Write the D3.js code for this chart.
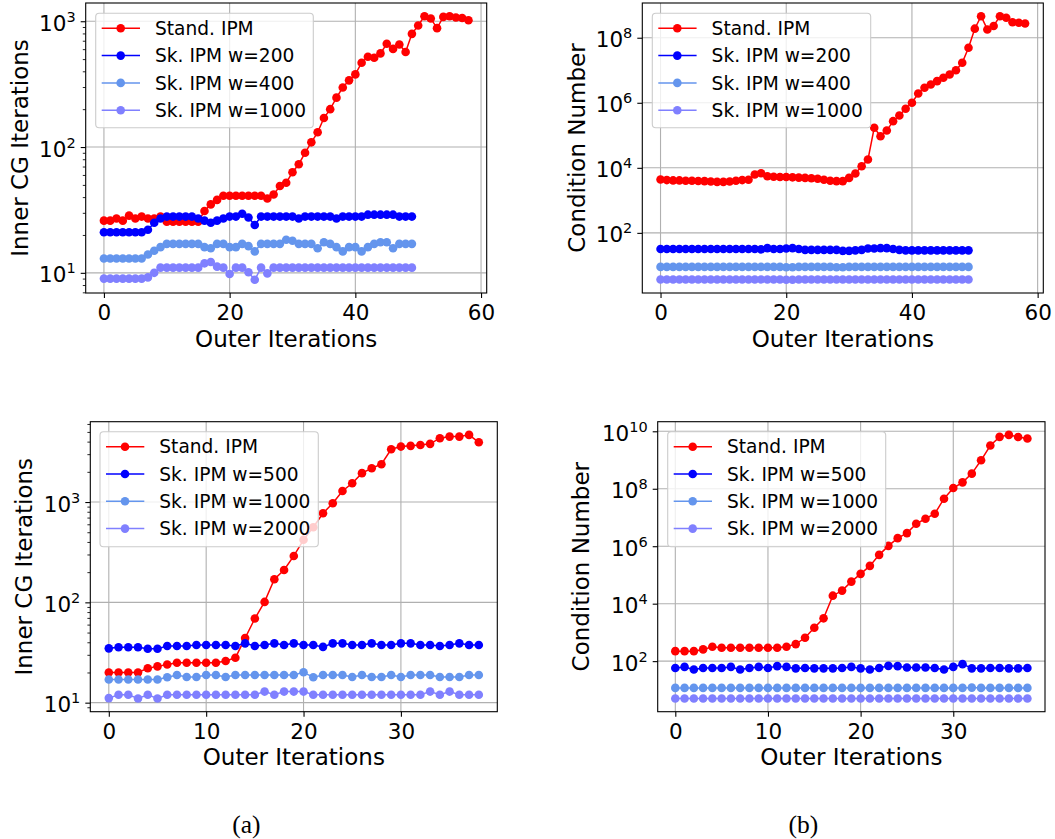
<!DOCTYPE html>
<html lang="en">
<head>
<meta charset="UTF-8">
<title>Inner CG Iterations / Condition Number</title>
<script src="https://d3js.org/d3.v7.min.js"></script>
<style>
  body { margin: 0; background: #fff; }
  svg text { font-family: "DejaVu Sans", sans-serif; fill: #000; }
</style>
</head>
<body>
<script>
var width = 1055, height = 839;

// ---- data ----
var legendTop = ["Stand. IPM", "Sk. IPM w=200", "Sk. IPM w=400", "Sk. IPM w=1000"];
var legendBottom = ["Stand. IPM", "Sk. IPM w=500", "Sk. IPM w=1000", "Sk. IPM w=2000"];
var colors = ["#ff0000", "#0000ff", "#6495ed", "#8080ff"];

var xTicksTop = [0, 20, 40, 60];
var xTicksBottom = [0, 10, 20, 30];
var yTicksA1 = [1e1, 1e2, 1e3];
var yTicksB1 = [1e2, 1e4, 1e6, 1e8];
var yTicksA2 = [1e1, 1e2, 1e3];
var yTicksB2 = [1e2, 1e4, 1e6, 1e8, 1e10];

// top-left: inner CG iterations
var p1Stand = [26,26,27,26,28.5,27,28,27,27,28,25.5,25.5,25.5,25.5,25.5,25.5,31,35,38,41,41,41,41,41,41,41,
  39,42,49,52,63,73,90,109,131,170,200,247,297,339,378,468,522,513,555,662,603,653,569,794,925,1097,1050,881,
  1083,1097,1071,1060,1018];
var p1W200 = [21,21,21,21,21,21,21,22,25,27,28,28,28,28,28,27,26,25,26,27,28,28,29.5,27.5,24,28,28,28,28,28,28,
  27,28,28,28,28,28,27,28,28,28,28,29,29,29,29,29,28,28,28];
var p1W400 = [13,13,13,13,13,13,13,14,15,16,17,17,17,17,17,17,16,15.7,17,17,16,16,17,16.3,14.8,17,17,17,17,18.3,18,
  17,17,17,15.7,17.5,17,16,14.8,16,16,14.8,16,17,17.5,17.5,15.7,17,17,17];
var p1W1000 = [9,9,9,9,9,9,9,9.2,10,11,11,11,11,11,11,11,11.9,12.2,11.2,11,9.8,11,11,10.1,8.8,11,9.9,
  11,11,11,11,11,11,11,11,11,11,11,11,11,11,11,11,11,11,11,11,11,11,11];

// top-right: condition number
var p2Stand = [4370,4200,4100,4100,4000,4000,3950,3900,3800,3700,3700,3800,4000,4200,4300,6200,6800,5500,5300,5200,
  5200,5100,5000,4900,4800,4600,4300,4000,3900,3900,4900,6700,11200,18000,170000,94000,140000,272000,406000,653000,
  1.0e6,1.93e6,2.89e6,3.65e6,4.63e6,5.9e6,7.4e6,1.0e7,1.7e7,4.9e7,1.9e8,4.6e8,1.8e8,2.3e8,4.6e8,4.1e8,3.0e8,2.9e8,2.75e8];
var p2W200 = [32,32,32,32,32,32,32,32,32,32,32,32,32,32,32,32,31,34,32,32,33,34,32,30,30,30,30,30,30,28,28,29,30,
  33,33,34,34,32,30,29,29,29,29,29,29,29,29,29,29,29];
var p2W400 = [9,9,9,9,9,9,9,9,9,9,9,9,9,9,9,9,9,9,9,9,8.8,8.8,9,9,9,9,9,9,8.8,8.8,9,9,9,9,9,9,9,9,9,9,
  9,9,9,9,9,9,9,9,9,9];
var p2W1000 = [3.7,3.7,3.7,3.7,3.7,3.7,3.7,3.7,3.7,3.7,3.7,3.7,3.7,3.7,3.7,3.7,3.7,3.7,3.7,3.7,3.6,3.6,3.7,3.7,3.7,
  3.7,3.7,3.7,3.7,3.7,3.7,3.7,3.7,3.7,3.7,3.7,3.7,3.7,3.7,3.7,3.7,3.7,3.7,3.7,3.7,3.7,3.7,3.7,3.7,3.7];

// bottom-left: inner CG iterations
var p3Stand = [20,20,20,20,22,23,24,25,25,25,25,25,26,28,44,69,101,170,210,290,420,560,773,973,1290,1540,1940,2170,
  2380,3360,3570,3630,3700,3800,4330,4490,4490,4670,3940];
var p3W500 = [34.8,35.7,35.7,35.7,34.5,34.5,36.7,36.7,36.7,37.6,37.6,37.6,37.6,36.7,39,36.7,37.6,39,37.6,39,37.6,37.6,
  36,39,39,37.6,37.6,39,37.6,37.6,39,39,37.6,37.6,36.7,37.6,39,37.6,37.6];
var p3W1000 = [17,17,17,17,17,17,17.9,18.9,18,18,18.9,18.9,18,18.9,18.9,18.9,18.9,18.9,18.9,18.9,20.1,17.9,18.9,18.9,
  18.9,18,18.9,18,18,18.9,18,18.9,18.9,18.9,18,18,18,18.9,18.9];
var p3W2000 = [11.1,12,12,11,12,11,12,12,12,12,12,12,12,12,12,12,12.9,12,12.9,12.9,12.9,12,12,12,12,12,12,12,12,12,
  12,12,12,12.9,12,12.9,12,12,12];

// bottom-right: condition number
var p4Stand = [223,223,223,256,316,292,292,292,292,292,292,292,316,392,652,1455,3090,19000,28500,58600,109000,207000,
  501000,1.03e6,1.91e6,2.86e6,6.05e6,9.04e6,1.35e7,4.5e7,1.06e8,1.67e8,3.36e8,9.8e8,3.19e9,6.4e9,7.5e9,6.3e9,5.6e9];
var p4W500 = [58,63,51,58,58,58,63,51,58,63,58,67,63,56,58,56,56,56,58,63,56,51,58,68.6,67,60,60,60,58,51,63,78.5,
  56,56,58,58,56,56,58];
var p4W1000 = [11.7,11.7,11.7,11.7,11.7,11.7,11.7,11.7,11.7,11.7,11.7,11.7,11.7,11.7,11.7,11.7,11.7,11.7,11.7,11.7,
  11.7,11.7,11.7,11.7,11.7,11.7,11.7,11.7,11.7,11.7,11.7,11.7,12,11.7,11.7,11.7,11.7,11.7,11.7];
var p4W2000 = [5,5,5,5,5,5,5,5,5,5,5,5,5,5,5,5,5,5,5,5,5,5,5,5,5,5,5,5,5,5,5,5,5,5,5,5,5,5,5];

// ---- layout ----
var panels = [
  { left: 85.7, right: 486.7, top: 3, bottom: 293, ylab: "Inner CG Iterations", ylabX: 27.5,
    series: [p1Stand, p1W200, p1W400, p1W1000], names: legendTop, xTicks: xTicksTop, yTicks: yTicksA1, minor: true,
    leg: { x: 95.7, y: 13.3, w: 217.6, h: 114.4 } },
  { left: 642.3, right: 1043.3, top: 3, bottom: 293, ylab: "Condition Number", ylabX: 585,
    series: [p2Stand, p2W200, p2W400, p2W1000], names: legendTop, xTicks: xTicksTop, yTicks: yTicksB1, minor: false,
    leg: { x: 652.3, y: 13.3, w: 218.4, h: 114.4 } },
  { left: 90.3, right: 497.3, top: 421.7, bottom: 711.7, ylab: "Inner CG Iterations", ylabX: 31.5,
    series: [p3Stand, p3W500, p3W1000, p3W2000], names: legendBottom, xTicks: xTicksBottom, yTicks: yTicksA2, minor: true,
    leg: { x: 100, y: 431.7, w: 218.3, h: 115 } },
  { left: 657.7, right: 1045, top: 421.7, bottom: 711.7, ylab: "Condition Number", ylabX: 589,
    series: [p4Stand, p4W500, p4W1000, p4W2000], names: legendBottom, xTicks: xTicksBottom, yTicks: yTicksB2, minor: false,
    leg: { x: 667.7, y: 431.7, w: 218, h: 115 } }
];

var tickFont = 21.5, labelFont = 23, legendFont = 18.6;

var svg = d3.select("body").append("svg")
  .attr("width", width)
  .attr("height", height);

panels.forEach(function(p, pi) {
  var g = svg.append("g");

  var n = d3.max(p.series, function(s) { return s.length; }) - 1;
  var x = d3.scaleLinear().domain([-0.05 * n, 1.05 * n]).range([p.left, p.right]);

  var all = [].concat.apply([], p.series);
  var lo = Math.log10(d3.min(all)), hi = Math.log10(d3.max(all));
  var m = (hi - lo) * 0.05;
  var y = d3.scaleLog().domain([Math.pow(10, lo - m), Math.pow(10, hi + m)]).range([p.bottom, p.top]);

  // grid
  g.selectAll(".gx").data(p.xTicks).enter().append("line")
    .attr("x1", function(d) { return x(d); }).attr("x2", function(d) { return x(d); })
    .attr("y1", p.top).attr("y2", p.bottom)
    .attr("stroke", "#b0b0b0").attr("stroke-width", 1.1);
  g.selectAll(".gy").data(p.yTicks).enter().append("line")
    .attr("x1", p.left).attr("x2", p.right)
    .attr("y1", function(d) { return y(d); }).attr("y2", function(d) { return y(d); })
    .attr("stroke", "#b0b0b0").attr("stroke-width", 1.1);

  // series
  var clipId = "clip" + pi;
  g.append("clipPath").attr("id", clipId).append("rect")
    .attr("x", p.left).attr("y", p.top).attr("width", p.right - p.left).attr("height", p.bottom - p.top);
  var plot = g.append("g").attr("clip-path", "url(#" + clipId + ")");
  var line = d3.line().x(function(d, i) { return x(i); }).y(function(d) { return y(d); });

  p.series.forEach(function(s, si) {
    var sg = plot.append("g");
    sg.append("path").datum(s)
      .attr("d", line)
      .attr("fill", "none")
      .attr("stroke", colors[si])
      .attr("stroke-width", 1.5);
    sg.selectAll("circle").data(s).enter().append("circle")
      .attr("cx", function(d, i) { return x(i); })
      .attr("cy", function(d) { return y(d); })
      .attr("r", 4.3)
      .attr("fill", colors[si]);
  });

  // frame
  g.append("rect")
    .attr("x", p.left).attr("y", p.top)
    .attr("width", p.right - p.left).attr("height", p.bottom - p.top)
    .attr("fill", "none").attr("stroke", "#000").attr("stroke-width", 1.1);

  // x axis
  var xa = g.append("g").attr("transform", "translate(0," + p.bottom + ")")
    .call(d3.axisBottom(x).tickValues(p.xTicks).tickSize(5).tickSizeOuter(0).tickPadding(6.7));
  xa.select(".domain").remove();
  xa.selectAll("line").attr("stroke-width", 1.1);
  xa.selectAll("text").attr("font-size", tickFont).attr("font-family", "DejaVu Sans");
  xa.attr("font-size", null).attr("font-family", null);

  // y axis (major)
  var ya = g.append("g").attr("transform", "translate(" + p.left + ",0)")
    .call(d3.axisLeft(y).tickValues(p.yTicks).tickSize(5).tickSizeOuter(0).tickPadding(5).tickFormat(function() { return ""; }));
  ya.select(".domain").remove();
  ya.selectAll("line").attr("stroke-width", 1.1);
  ya.selectAll(".tick text").each(function(d) {
    var t = d3.select(this);
    t.attr("dy", null).attr("y", 9).attr("font-family", "DejaVu Sans").attr("font-size", tickFont);
    t.append("tspan").text("10");
    t.append("tspan").attr("dy", -9).attr("font-size", 14.5).text(Math.round(Math.log10(d)));
  });

  // y axis (minor)
  if (p.minor) {
    var minors = [];
    var dom = y.domain();
    for (var k = Math.floor(Math.log10(dom[0])); k <= Math.ceil(Math.log10(dom[1])); k++) {
      for (var j = 2; j <= 9; j++) {
        var v = j * Math.pow(10, k);
        if (v >= dom[0] && v <= dom[1]) minors.push(v);
      }
    }
    var ym = g.append("g").attr("transform", "translate(" + p.left + ",0)")
      .call(d3.axisLeft(y).tickValues(minors).tickSize(2.9).tickSizeOuter(0).tickFormat(""));
    ym.select(".domain").remove();
    ym.selectAll("line").attr("stroke-width", 0.85);
  }

  // axis labels
  g.append("text")
    .attr("x", (p.left + p.right) / 2).attr("y", p.bottom + 53.5)
    .attr("text-anchor", "middle").attr("font-size", labelFont)
    .text("Outer Iterations");
  g.append("text")
    .attr("transform", "translate(" + p.ylabX + "," + (p.top + p.bottom) / 2 + ") rotate(-90)")
    .attr("text-anchor", "middle").attr("font-size", labelFont)
    .text(p.ylab);

  // legend
  var L = p.leg;
  var lg = g.append("g");
  lg.append("rect")
    .attr("x", L.x).attr("y", L.y).attr("width", L.w).attr("height", L.h)
    .attr("rx", 3.5).attr("ry", 3.5)
    .attr("fill", "#fff").attr("fill-opacity", 0.8)
    .attr("stroke", "#cccccc").attr("stroke-width", 1.1);
  var rows = lg.selectAll(".row").data(p.names).enter().append("g")
    .attr("transform", function(d, i) { return "translate(" + L.x + "," + (L.y + 15 + 27.3 * i) + ")"; });
  rows.append("line")
    .attr("x1", 6).attr("x2", 44.3).attr("y1", 0).attr("y2", 0)
    .attr("stroke", function(d, i) { return colors[i]; }).attr("stroke-width", 1.5);
  rows.append("circle")
    .attr("cx", 25).attr("cy", 0).attr("r", 4.3)
    .attr("fill", function(d, i) { return colors[i]; });
  rows.append("text")
    .attr("x", 59.3).attr("y", 6.7)
    .attr("font-size", legendFont)
    .text(function(d) { return d; });
});

// sub-figure captions
svg.selectAll(".cap").data([["(a)", 246.3], ["(b)", 803.3]]).enter().append("text")
  .attr("x", function(d) { return d[1]; })
  .attr("y", 833)
  .attr("text-anchor", "middle")
  .style("font-family", "'Liberation Serif', 'DejaVu Serif', serif")
  .attr("font-size", 25.5)
  .text(function(d) { return d[0]; });
</script>
</body>
</html>
